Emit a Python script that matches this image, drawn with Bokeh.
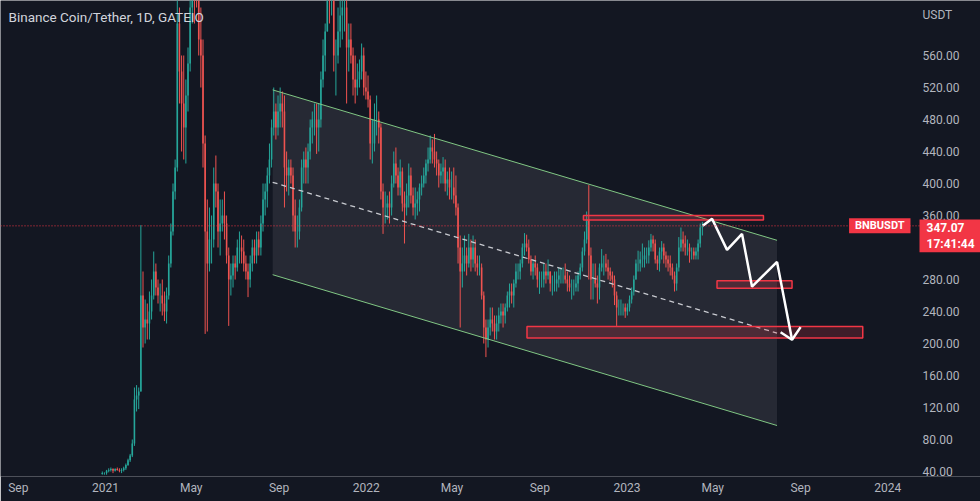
import pandas as pd
from bokeh.plotting import figure
from bokeh.models import FixedTicker, Label, Span, Range1d, PrintfTickFormatter, ColumnDataSource
from bokeh.embed import file_html
from bokeh.resources import INLINE

# ---------------- data (3-day candles) ----------------
start_date = "2020-12-26"
step_days = 3
first_open = 37.0

high_2021 = [40, 39, 42, 44, 45, 44, 44, 45, 44, 44, 46, 50, 56, 62, 80, 145, 148, 145, 348, 290,
             255, 250, 265, 280, 315, 300, 280, 275, 280, 265, 270, 310, 350, 400, 430, 640, 620, 560, 560, 530,
             570, 640, 690, 690, 700, 690, 620, 580, 460, 380, 370, 360, 420, 435, 400, 380, 380, 390, 360, 320,
             300, 310, 310, 330, 340, 335, 330, 310, 300, 310, 330, 330, 340, 340, 360, 400, 400, 420, 450, 480,
             520, 500, 510, 520, 515, 510, 440, 430, 430, 420, 380, 360, 380, 430, 440, 445, 450, 480, 490, 500,
             500, 500, 540, 580, 600, 670, 670, 680, 670, 580, 620, 640, 650, 650, 630, 600, 600, 570, 560, 550,
             555, 575, 570, 540]
low_2021 = [36, 36, 36, 39, 40, 38, 40, 41, 39, 38, 40, 42, 47, 52, 58, 72, 115, 118, 140, 195,
            200, 205, 205, 230, 255, 260, 250, 240, 235, 228, 225, 255, 295, 335, 380, 415, 500, 440, 430, 425,
            490, 540, 600, 600, 620, 560, 520, 420, 212, 215, 290, 300, 320, 370, 320, 310, 340, 330, 300, 222,
            260, 270, 280, 290, 300, 300, 290, 280, 258, 270, 290, 300, 300, 310, 310, 340, 360, 370, 400, 420,
            460, 455, 460, 470, 470, 370, 390, 385, 400, 340, 320, 320, 330, 365, 400, 400, 400, 430, 450, 460,
            437, 440, 470, 520, 540, 590, 600, 610, 540, 510, 550, 570, 580, 590, 500, 540, 550, 510, 500, 510,
            520, 530, 510, 505]
close_2021 = [38, 38, 41, 42, 43, 41, 43, 42, 41, 42, 44, 48, 54, 60, 75, 130, 135, 140, 260, 220,
              230, 225, 240, 260, 290, 270, 260, 260, 250, 240, 260, 300, 340, 390, 420, 600, 540, 500, 470, 510,
              550, 620, 660, 650, 640, 580, 560, 450, 340, 300, 330, 330, 400, 390, 340, 350, 360, 350, 310, 280,
              285, 300, 295, 320, 320, 315, 300, 290, 280, 300, 320, 310, 330, 320, 350, 380, 390, 410, 430, 470,
              490, 470, 490, 500, 490, 420, 410, 420, 410, 360, 340, 340, 370, 420, 430, 420, 440, 470, 480, 480,
              470, 480, 530, 560, 590, 640, 630, 640, 560, 560, 590, 610, 620, 620, 570, 580, 560, 530, 520, 530,
              540, 560, 520, 515]

high_2022 = [535, 510, 480, 500, 510, 490, 475, 400, 390, 385, 390, 410, 440, 445, 420, 430, 420, 390, 400, 425,
             420, 395, 395, 390, 400, 410, 420, 430, 445, 460, 455, 462, 440, 430, 425, 433, 430, 415, 420, 415,
             420, 410, 375, 335, 320, 335, 320, 337, 330, 335, 330, 310, 310, 300, 265, 230, 230, 245, 245, 235,
             235, 245, 250, 250, 250, 265, 275, 275, 280, 300, 300, 305, 325, 338, 336, 330, 310, 305, 310, 300,
             290, 290, 300, 300, 305, 290, 285, 290, 290, 295, 295, 295, 300, 290, 285, 280, 280, 285, 290, 300,
             320, 340, 365, 398, 320, 300, 300, 285, 300, 318, 310, 312, 305, 295, 290, 285, 265, 255, 255, 250,
             250, 250]
low_2022 = [495, 430, 425, 440, 460, 450, 380, 337, 350, 355, 350, 360, 395, 400, 385, 385, 365, 325, 360, 370,
            375, 360, 355, 360, 365, 385, 395, 400, 415, 425, 425, 420, 410, 395, 400, 400, 390, 385, 380, 380,
            375, 360, 300, 220, 270, 290, 285, 295, 290, 295, 290, 285, 285, 255, 200, 183, 195, 210, 215, 205,
            205, 215, 225, 220, 225, 240, 245, 250, 245, 270, 280, 280, 295, 310, 315, 300, 285, 280, 285, 270,
            262, 270, 270, 275, 280, 265, 260, 265, 265, 270, 275, 275, 275, 265, 265, 255, 260, 265, 265, 280,
            290, 310, 325, 280, 255, 255, 270, 250, 255, 290, 285, 290, 280, 278, 270, 248, 222, 235, 235, 235,
            232, 235]
close_2022 = [505, 450, 450, 480, 480, 470, 390, 370, 370, 375, 370, 400, 425, 410, 395, 415, 375, 370, 385, 410,
              385, 370, 375, 380, 395, 400, 410, 425, 430, 445, 440, 430, 425, 410, 415, 420, 400, 405, 395, 395,
              385, 370, 320, 290, 300, 310, 300, 320, 305, 320, 300, 295, 295, 260, 220, 205, 220, 230, 225, 215,
              225, 235, 240, 235, 245, 260, 265, 260, 275, 290, 290, 300, 320, 325, 320, 305, 290, 300, 295, 280,
              280, 280, 290, 285, 290, 275, 275, 275, 280, 285, 285, 285, 280, 275, 270, 270, 270, 275, 285, 295,
              315, 330, 355, 310, 280, 280, 275, 270, 295, 300, 300, 295, 290, 285, 280, 260, 245, 245, 245, 245,
              240, 245]

high_2023 = [260, 270, 285, 305, 316, 315, 325, 320, 320, 329, 337, 335, 330, 310, 320, 328, 325, 315, 310, 310,
             300, 290, 300, 333, 345, 340, 335, 330, 325, 320, 320, 320, 330, 350, 352]
low_2023 = [240, 250, 260, 280, 290, 290, 295, 295, 300, 300, 315, 315, 300, 292, 290, 305, 300, 295, 290, 285,
            280, 265, 266, 290, 315, 315, 310, 310, 301, 305, 305, 305, 305, 320, 335]
close_2023 = [255, 265, 280, 300, 300, 305, 305, 310, 310, 320, 330, 325, 305, 300, 315, 320, 310, 305, 300, 295,
              285, 275, 295, 320, 330, 325, 320, 320, 315, 315, 310, 315, 325, 345, 347.07]

last_price = 347.07
last_time = "17:41:44"
symbol = "BNBUSDT"
title_text = "Binance Coin/Tether, 1D, GATEIO"
currency = "USDT"

# drawings (date, price)
channel_dates = ["2021-08-23", "2023-07-30"]
channel_top = [517.0, 329.0]
channel_mid = [401.5, 213.0]
channel_bottom = [286.0, 97.5]

zone_left = ["2022-11-01", "2023-05-07", "2022-08-14"]
zone_right = ["2023-07-11", "2023-08-20", "2023-11-27"]
zone_bottom = [354.4, 269.1, 206.9]
zone_top = [360.0, 278.4, 221.2]

path_dates = ["2023-04-17", "2023-04-30", "2023-05-21", "2023-06-11", "2023-06-25", "2023-07-30", "2023-08-20"]
path_prices = [347.07, 356.0, 317.0, 337.0, 271.0, 302.0, 204.6]
arrow_dates = ["2023-08-04", "2023-08-20", "2023-09-01"]
arrow_prices = [214.0, 204.6, 220.5]

x_tick_dates = ["2020-09-01", "2021-01-01", "2021-05-01", "2021-09-01", "2022-01-01", "2022-05-01",
                "2022-09-01", "2023-01-01", "2023-05-01", "2023-09-01", "2024-01-01"]
x_tick_labels = ["Sep", "2021", "May", "Sep", "2022", "May", "Sep", "2023", "May", "Sep", "2024"]
y_ticks = [40, 80, 120, 160, 200, 240, 280, 320, 360, 400, 440, 480, 520, 560]

# ---------------- build ----------------
DAY = 86400000


def ms(d):
    return int(pd.Timestamp(d).value // 10**6)


high = high_2021 + high_2022 + high_2023
low = low_2021 + low_2022 + low_2023
close = close_2021 + close_2022 + close_2023
opn = [first_open] + close[:-1]
t_start = ms(start_date)
xs = [t_start + (i * step_days + step_days / 2) * DAY for i in range(len(close))]
UP, DOWN = "#26a69a", "#ef5350"
colors = [UP if c >= o else DOWN for o, c in zip(opn, close)]
src = ColumnDataSource(dict(x=xs, high=high, low=low,
                            top=[max(o, c) for o, c in zip(opn, close)],
                            bottom=[min(o, c) for o, c in zip(opn, close)],
                            color=colors))

BG = "#131722"
PXD = 0.7144  # pixels per day
t0 = ms("2021-01-01")


def px(xpix):
    return t0 + (xpix - 105) / PXD * DAY


def py(ypix):
    return 628.75 - 1.25 * ypix


p = figure(width=980, height=501, x_axis_type="datetime",
           x_range=Range1d(px(0), px(980)), y_range=Range1d(py(476), py(0)),
           y_axis_location="right", output_backend="svg", toolbar_location=None,
           min_border_left=0, min_border_top=0, min_border_right=0, min_border_bottom=25,
           background_fill_color=BG, border_fill_color=BG, outline_line_color=None)
p.outline_line_alpha = 0
p.grid.visible = False

# channel
cx = [ms(d) for d in channel_dates]
p.patch([cx[0], cx[1], cx[1], cx[0]],
        [channel_top[0], channel_top[1], channel_bottom[1], channel_bottom[0]],
        fill_color="#787b86", fill_alpha=0.19, line_color=None)

# candles
p.segment(x0="x", y0="low", x1="x", y1="high", line_color="color", line_width=1, source=src)
p.vbar(x="x", width=2.2 * DAY, top="top", bottom="bottom", fill_color="color",
       line_color=None, source=src)

p.line(cx, channel_top, line_color="#81c784", line_width=1)
p.line(cx, channel_bottom, line_color="#81c784", line_width=1)
p.line(cx, channel_mid, line_color="#c8cad0", line_width=1.3, line_dash="5 4")

# zones
p.quad(left=[ms(d) for d in zone_left], right=[ms(d) for d in zone_right],
       bottom=zone_bottom, top=zone_top, fill_color="#f23645", fill_alpha=0.2,
       line_color="#f23645", line_width=1.5)

# price line
p.add_layout(Span(location=last_price, dimension="width", line_color="#f23645",
                  line_dash="1 2", line_width=1))

# projected path
p.line([ms(d) for d in path_dates], path_prices, line_color="white", line_width=2.5)
p.line([ms(d) for d in arrow_dates], arrow_prices, line_color="white", line_width=2.5)

# axes
p.xaxis.ticker = FixedTicker(ticks=[ms(d) for d in x_tick_dates])
p.xaxis.major_label_overrides = {ms(d): lab for d, lab in zip(x_tick_dates, x_tick_labels)}
p.yaxis.ticker = FixedTicker(ticks=y_ticks)
p.yaxis.formatter = PrintfTickFormatter(format="%.2f")
p.yaxis.fixed_location = px(915)
for ax in (p.xaxis[0], p.yaxis[0]):
    ax.axis_line_color = None
    ax.axis_line_alpha = 0
    ax.major_tick_line_color = None
    ax.minor_tick_line_color = None
    ax.major_tick_out = 0
    ax.major_tick_in = 0
    ax.major_label_text_color = "#b2b5be"
    ax.major_label_text_font = "Roboto"
    ax.major_label_text_font_size = "12px"
p.yaxis.major_label_standoff = 7
p.xaxis.major_label_standoff = 4

# labels
p.add_layout(Label(x=px(8), y=py(16), text=title_text, text_baseline="middle",
                   text_color="#d1d4dc", text_font="Roboto", text_font_size="13.5px"))
p.add_layout(Label(x=px(922), y=py(14), text=currency, text_baseline="middle",
                   text_color="#b2b5be", text_font="Roboto", text_font_size="12px"))
p.add_layout(Label(x=px(910), y=last_price, text=symbol, text_align="right", text_baseline="middle",
                   text_color="white", text_font="Roboto", text_font_size="11px", text_font_style="bold",
                   background_fill_color="#f23645", padding=(6, 1)))
p.add_layout(Label(x=px(919), y=py(219), text=f"{last_price:.2f}\n{last_time}", text_align="left",
                   text_baseline="top", text_color="white", text_font="Roboto", text_font_size="12px",
                   text_font_style="bold", background_fill_color="#f23645", padding=(7, 1)))

open("out.html", "w").write(file_html(p, INLINE))
